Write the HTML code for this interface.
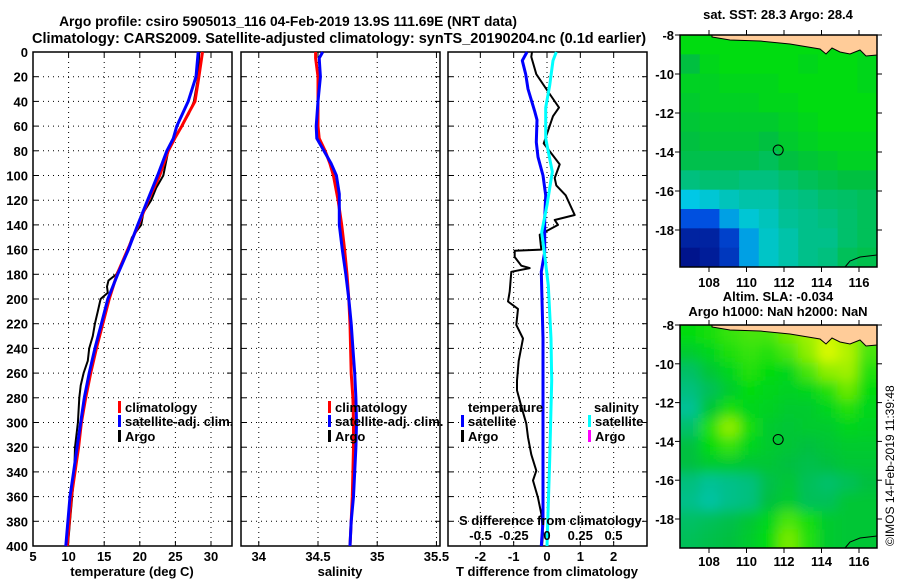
<!DOCTYPE html>
<html><head><meta charset="utf-8">
<style>
body{margin:0;background:#fff;}
svg{display:block;font-family:"Liberation Sans",Arial,sans-serif;font-weight:bold;}
text{font-size:13px;fill:#000;}
</style></head>
<body>
<svg id="fig" width="900" height="580" viewBox="0 0 900 580">
<text x="288" y="26" text-anchor="middle" style="font-size:13.8px">Argo profile: csiro 5905013_116 04-Feb-2019 13.9S 111.69E (NRT data)</text>
<text x="339" y="43" text-anchor="middle" style="font-size:14.5px">Climatology: CARS2009. Satellite-adjusted climatology: synTS_20190204.nc (0.1d earlier)</text>
<text x="778" y="19" text-anchor="middle">sat. SST: 28.3 Argo: 28.4</text>
<text x="778" y="301" text-anchor="middle">Altim. SLA: -0.034</text>
<text x="778" y="316" text-anchor="middle">Argo h1000: NaN h2000: NaN</text>
<text transform="translate(894,546) rotate(-90)" style="font-size:12px;font-weight:normal">©IMOS 14-Feb-2019 11:39:48</text>
</svg>
<script>
// ---- data ----
const depths = [0,20,40,50,60,70,80,100,120,140,160,180,200,220,240,260,280,300,320,340,360,380,400];
const tempClim = [28.8,28.3,27.75,26.8,25.9,24.9,24.0,22.8,21.2,19.8,18.3,16.8,15.7,14.8,13.9,13.1,12.4,11.8,11.4,10.9,10.4,10.1,9.8];
const tempSat  = [28.2,27.9,26.8,26.0,25.2,24.7,23.8,22.5,21.1,19.7,18.4,16.9,15.5,14.6,13.7,12.9,12.2,11.7,11.2,10.7,10.2,9.9,9.6];
const argoDepths = [0,20,40,50,60,70,80,100,110,120,130,140,150,160,170,180,185,190,195,200,210,220,230,240,250,260,270,280,300,320,340,360,380,400];
const tempArgo = [28.35,28.2,27.6,26.9,25.9,24.9,24.0,23.3,22.3,21.6,20.5,20.2,18.9,18.3,17.6,16.7,15.6,15.4,15.5,14.5,14.1,13.7,13.4,12.9,12.7,12.1,11.7,11.5,11.3,10.9,10.8,10.5,10.2,9.9];
const salDepths = [0,5,20,40,60,70,80,90,100,115,120,140,160,180,200,220,240,260,280,300,320,340,360,380,400];
const salClim = [34.48,34.48,34.50,34.50,34.50,34.51,34.56,34.60,34.63,34.66,34.67,34.70,34.725,34.745,34.76,34.77,34.775,34.78,34.795,34.80,34.80,34.795,34.79,34.78,34.77];
const salSat  = [34.54,34.51,34.52,34.50,34.485,34.49,34.55,34.61,34.655,34.68,34.68,34.68,34.705,34.735,34.76,34.78,34.795,34.81,34.82,34.825,34.82,34.81,34.80,34.78,34.77];
const tdDepths = [0,4,18,32,45,52,74,91,102,108,116,132,136,140,148,160,161,166,173,175,178,194,202,208,221,232,250,266,274,287,301,312,326,339,347,361,374,390,400];
const tDiffArgo = [-0.45,-0.47,-0.32,0.03,0.36,0.18,-0.1,0.38,0.23,0.28,0.56,0.83,0.23,0.33,-0.22,-0.17,-0.97,-0.97,-0.77,-0.52,-1.07,-1.12,-1.17,-0.87,-0.92,-0.72,-0.85,-0.9,-0.9,-0.77,-0.62,-0.57,-0.47,-0.32,-0.42,-0.27,-0.17,-0.12,-0.15];
const sdDepths = [0,7,18,30,48,55,73,85,100,116,135,162,178,232,300,380,400];
const tDiffSat = [-0.6,-0.74,-0.64,-0.57,-0.37,-0.3,-0.32,-0.27,-0.12,-0.04,-0.07,-0.07,-0.17,-0.12,-0.12,-0.12,-0.17];
const cyDepths = [0,7,27,45,70,97,124,146,162,189,232,266,330,400];
const sDiffSat = [0.07,0.045,0.02,-0.01,-0.01,0.04,0.0,-0.04,-0.02,0.01,0.03,0.035,0.02,0.0];
const tTicks1 = [5,10,15,20,25,30];
const sTicks = [34,34.5,35,35.5];
const tdTicks = [-2,-1,0,1,2];
const sdTicks = [-0.5,-0.25,0,0.25,0.5];
const depthTicks = [0,20,40,60,80,100,120,140,160,180,200,220,240,260,280,300,320,340,360,380,400];
const lonTicks = [108,110,112,114,116];
const latTicks = [-8,-10,-12,-14,-16,-18];
const sstGrid = [
[.72,.72,.72,.72,.72,.72,.72,.72,.72,.7],
[.62,.7,.72,.72,.72,.72,.7,.72,.72,.7],
[.68,.68,.7,.7,.7,.72,.72,.72,.72,.7],
[.66,.68,.68,.68,.7,.7,.72,.72,.72,.72],
[.64,.66,.66,.66,.66,.68,.7,.72,.72,.72],
[.62,.64,.64,.64,.62,.66,.68,.7,.7,.7],
[.6,.6,.6,.6,.58,.62,.64,.66,.68,.68],
[.52,.54,.54,.52,.52,.55,.58,.6,.62,.62],
[.35,.38,.42,.45,.45,.5,.52,.55,.56,.58],
[.2,.2,.3,.38,.42,.48,.5,.52,.55,.58],
[.05,.05,.15,.3,.4,.45,.5,.5,.55,.58],
[0,.03,.12,.3,.4,.45,.5,.52,.58,.6]];
const slaGrid = [
[.72,.74,.78,.8,.8,.85,.9,.95,.9,.82],
[.66,.7,.75,.78,.76,.8,.88,.96,.92,.8],
[.56,.64,.7,.76,.72,.7,.8,.88,.9,.76],
[.52,.58,.66,.72,.7,.68,.7,.76,.84,.72],
[.48,.64,.74,.7,.68,.66,.66,.7,.76,.7],
[.55,.76,.88,.74,.66,.64,.66,.66,.7,.68],
[.62,.72,.78,.7,.66,.64,.62,.64,.66,.66],
[.62,.66,.66,.64,.64,.62,.6,.62,.64,.64],
[.52,.48,.5,.52,.6,.64,.58,.55,.58,.62],
[.5,.46,.5,.52,.62,.66,.58,.58,.64,.64],
[.56,.58,.6,.64,.7,.8,.74,.66,.64,.64],
[.58,.6,.62,.66,.72,.85,.76,.66,.64,.64]];

const NS='http://www.w3.org/2000/svg';
const svg=document.getElementById('fig');
function el(tag,attrs,parent){const e=document.createElementNS(NS,tag);for(const k in attrs)e.setAttribute(k,attrs[k]);(parent||svg).appendChild(e);return e;}
const Y0=52,Y1=546;
const yD=d=>Y0+(d/400)*(Y1-Y0);
const panels=[
 {x0:33,x1:232,min:5,max:32.95,ticks:tTicks1,name:'temperature-panel'},
 {x0:241,x1:440,min:33.85,max:35.53,ticks:sTicks,name:'salinity-panel'},
 {x0:448,x1:647,min:-2.97,max:3.0,ticks:tdTicks,name:'t-difference-panel'}];
function sx(p,v){return p.x0+(v-p.min)/(p.max-p.min)*(p.x1-p.x0);}
const sdScale=v=>547+v*133;

panels.forEach((p,i)=>{
 const g=el('g',{});
 
 
 depthTicks.forEach(d=>{
  if(d>0&&d<400){const l=el('line',{x1:p.x0,x2:p.x1,y1:yD(d),y2:yD(d),stroke:'#000','stroke-width':1,'stroke-dasharray':'1,4'},g);
  }
  el('line',{x1:p.x0,x2:p.x0+5,y1:yD(d),y2:yD(d),stroke:'#000'},g);
  el('line',{x1:p.x1-5,x2:p.x1,y1:yD(d),y2:yD(d),stroke:'#000'},g);
  if(i===0){const t=el('text',{x:28,y:yD(d)+5,'text-anchor':'end'},g);t.textContent=d;
   }
 });
 p.ticks.forEach(v=>{const x=sx(p,v);
  if(x>p.x0+1&&x<p.x1-1){const l=el('line',{x1:x,x2:x,y1:Y0,y2:Y1,stroke:'#000','stroke-width':1,'stroke-dasharray':'1,4'},g);
  }
  el('line',{x1:x,x2:x,y1:Y1-5,y2:Y1,stroke:'#000'},g);el('line',{x1:x,x2:x,y1:Y0,y2:Y0+5,stroke:'#000'},g);
  const t=el('text',{x:x,y:561,'text-anchor':'middle'},g);t.textContent=v;
  
 });
 const r=el('rect',{x:p.x0,y:Y0,width:p.x1-p.x0,height:Y1-Y0,fill:'none',stroke:'#000','stroke-width':1.5},g);
 
});
[['temperature (deg C)',132,'temperature-axis-title'],['salinity',340,'salinity-axis-title'],['T difference from climatology',547,'t-diff-axis-title']].forEach(a=>{
 const t=el('text',{x:a[1],y:576,'text-anchor':'middle'});t.textContent=a[0];
 });

function line(xs,ds,fx,color,w,name){
 const pts=xs.map((v,i)=>fx(v).toFixed(1)+','+yD(ds[i]).toFixed(1)).join(' ');
 const pl=el('polyline',{points:pts,fill:'none',stroke:color,'stroke-width':w,'stroke-linejoin':'round'});
 
}
line(tempArgo,argoDepths,v=>sx(panels[0],v),'#000',2,'temp-argo-line');
line(tempClim,depths,v=>sx(panels[0],v),'#f00',3,'temp-climatology-line');
line(tempSat,depths,v=>sx(panels[0],v),'#00f',3,'temp-satellite-line');
line(salClim,salDepths,v=>sx(panels[1],v),'#f00',3,'salinity-climatology-line');
line(salSat,salDepths,v=>sx(panels[1],v),'#00f',3,'salinity-satellite-line');
line(tDiffArgo,tdDepths,v=>sx(panels[2],v),'#000',2,'t-diff-argo-line');
line(tDiffSat,sdDepths,v=>sx(panels[2],v),'#00f',3,'t-diff-satellite-line');
line(sDiffSat,cyDepths,sdScale,'#0ff',3,'s-diff-satellite-line');

function legend(x,y,color,label){
 const g=el('g',{});
 el('rect',{x:x,y:y-11,width:3,height:12,fill:color},g);
 const t=el('text',{x:x+7,y:y},g);t.textContent=label;}
legend(118,412,'#f00','climatology');legend(118,426,'#00f','satellite-adj. clim.');legend(118,441,'#000','Argo');
legend(328,412,'#f00','climatology');legend(328,426,'#00f','satellite-adj. clim.');legend(328,441,'#000','Argo');
{const t=el('text',{x:468,y:412});t.textContent='temperature';}
{const t=el('text',{x:594,y:412});t.textContent='salinity';}
legend(461,426,'#00f','satellite');legend(461,441,'#000','Argo');
legend(588,426,'#0ff','satellite');legend(588,441,'#f0f','Argo');
{const t=el('text',{x:459,y:525});t.textContent='S difference from climatology';}
sdTicks.forEach(v=>{const t=el('text',{x:sdScale(v),y:540,'text-anchor':'middle'});t.textContent=String(v);
 });

// ---- maps ----
const stops=[[0,[0,20,140]],[0.2,[0,80,224]],[0.35,[0,200,230]],[0.5,[0,192,138]],[0.62,[0,192,64]],[0.72,[0,220,16]],[0.9,[160,240,0]],[1,[255,255,0]]];
function cmap(v){for(let i=1;i<stops.length;i++){if(v<=stops[i][0]){const a=stops[i-1],b=stops[i],t=(v-a[0])/(b[0]-a[0]);
 return 'rgb('+a[1].map((c,k)=>Math.round(c+(b[1][k]-c)*t)).join(',')+')';}}return 'rgb(255,255,0)';}
const maps=[{y0:35,y1:267,latTop:-8,pxLat:19.5,grid:sstGrid,name:'sst-map',blur:false,lbly:287},
            {y0:325,y1:548,latTop:-8,pxLat:19.4,grid:slaGrid,name:'sla-map',blur:true,lbly:566}];
const MX0=680,MX1=877,lonX=l=>709+(l-108)*18.75;
maps.forEach((m,mi)=>{
 const g=el('g',{});
 let cg;
 if(m.blur){
  const f=el('filter',{id:'bl'+mi,x:'-10%',y:'-10%',width:'120%',height:'120%'},svg);el('feGaussianBlur',{stdDeviation:6},f);
  const cp=el('clipPath',{id:'cp'+mi},svg);
  el('rect',{x:MX0,y:m.y0,width:MX1-MX0,height:m.y1-m.y0},cp);
  const outer=el('g',{'clip-path':'url(#cp'+mi+')'},g);
  cg=el('g',{filter:'url(#bl'+mi+')'},outer);
 } else cg=el('g',{},g);
 const rows=m.grid.length,cols=m.grid[0].length,cw=(MX1-MX0)/cols,ch=(m.y1-m.y0)/rows,pad=m.blur?20:0;
 m.grid.forEach((row,r)=>row.forEach((v,c)=>{
  let x=MX0+c*cw,y=m.y0+r*ch,w=cw+0.5,h=ch+0.5;
  if(c===0){x-=pad;w+=pad;} if(c===cols-1)w+=pad;
  if(r===0){y-=pad;h+=pad;} if(r===rows-1)h+=pad;
  const cell=el('rect',{x:x,y:y,width:w,height:h,fill:cmap(v)},cg);
  }));
 const y=m.y0;
 const land=el('path',{d:`M712,${y} L712,${y+2} L730,${y+5} L760,${y+6} L790,${y+9} L820,${y+14} L826,${y+19} L832,${y+13} L840,${y+17} L850,${y+19} L860,${y+15} L866,${y+21} L877,${y+20} L877,${y} Z`,fill:'#ffcc99',stroke:'#000','stroke-width':1},g);
 
 el('path',{d:`M845,${m.y1} L850,${m.y1-6} L860,${m.y1-10} L877,${m.y1-12}`,fill:'none',stroke:'#000','stroke-width':1},g);
 el('rect',{x:MX0,y:m.y0,width:MX1-MX0,height:m.y1-m.y0,fill:'none',stroke:'#000','stroke-width':1.5},g);
 const yl=lat=>m.y0+(m.latTop-lat)*m.pxLat;
 const mk=el('circle',{cx:lonX(111.69),cy:yl(-13.9),r:5,fill:'none',stroke:'#000','stroke-width':1},g);
 
 latTicks.forEach(l=>{const yy=yl(l);
  el('line',{x1:MX0-5,x2:MX0,y1:yy,y2:yy,stroke:'#000'},g);el('line',{x1:MX1,x2:MX1+5,y1:yy,y2:yy,stroke:'#000'},g);
  const t=el('text',{x:MX0-6,y:yy+5,'text-anchor':'end'},g);t.textContent=l;
  });
 lonTicks.forEach(l=>{const xx=lonX(l);
  el('line',{x1:xx,x2:xx,y1:m.y1,y2:m.y1+5,stroke:'#000'},g);el('line',{x1:xx,x2:xx,y1:m.y0-5,y2:m.y0,stroke:'#000'},g);
  const t=el('text',{x:xx,y:m.lbly,'text-anchor':'middle'},g);t.textContent=l;
  });
});
</script>
</body></html>
